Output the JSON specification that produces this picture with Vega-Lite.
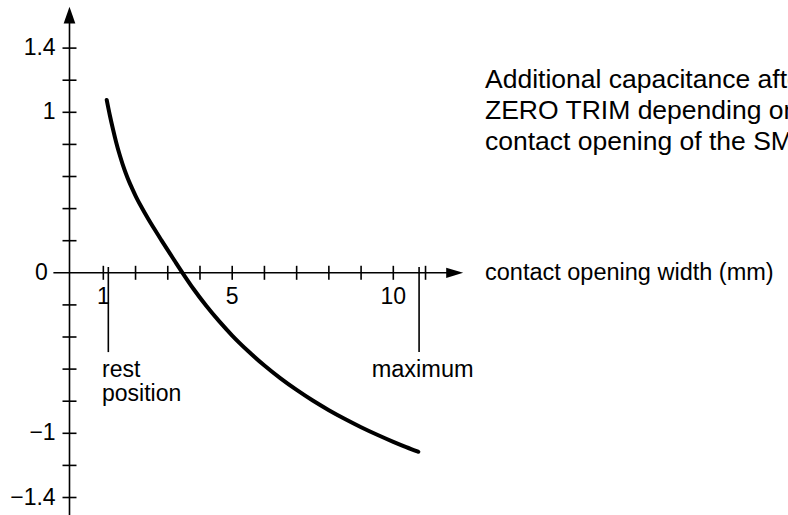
{
  "$schema": "https://vega.github.io/schema/vega-lite/v6.json",
  "width": 788,
  "height": 515,
  "autosize": {"type": "none"},
  "padding": 0,
  "background": "white",
  "config": {"view": {"stroke": null}},
  "datasets": {
    "curve": [
      {"x": 1.105, "y": 1.077},
      {"x": 1.2, "y": 0.983},
      {"x": 1.3, "y": 0.894},
      {"x": 1.4, "y": 0.812},
      {"x": 1.5, "y": 0.74},
      {"x": 1.6, "y": 0.676},
      {"x": 1.7, "y": 0.619},
      {"x": 1.8, "y": 0.568},
      {"x": 1.9, "y": 0.523},
      {"x": 2.0, "y": 0.48},
      {"x": 2.2, "y": 0.404},
      {"x": 2.4, "y": 0.334},
      {"x": 2.6, "y": 0.268},
      {"x": 2.8, "y": 0.204},
      {"x": 3.0, "y": 0.141},
      {"x": 3.2, "y": 0.079},
      {"x": 3.457, "y": 0.0},
      {"x": 3.8, "y": -0.101},
      {"x": 4.2, "y": -0.207},
      {"x": 4.6, "y": -0.303},
      {"x": 5.0, "y": -0.391},
      {"x": 5.5, "y": -0.489},
      {"x": 6.0, "y": -0.578},
      {"x": 6.5, "y": -0.658},
      {"x": 7.0, "y": -0.73},
      {"x": 7.5, "y": -0.796},
      {"x": 8.0, "y": -0.856},
      {"x": 8.5, "y": -0.911},
      {"x": 9.0, "y": -0.962},
      {"x": 9.5, "y": -1.009},
      {"x": 10.0, "y": -1.053},
      {"x": 10.4, "y": -1.086},
      {"x": 10.776, "y": -1.115}
    ],
    "yticks": [
      {"v": -1.4}, {"v": -1.2}, {"v": -1.0}, {"v": -0.8}, {"v": -0.6}, {"v": -0.4}, {"v": -0.2},
      {"v": 0.2}, {"v": 0.4}, {"v": 0.6}, {"v": 0.8}, {"v": 1.0}, {"v": 1.2}, {"v": 1.4}
    ],
    "xticks": [
      {"v": 1}, {"v": 2}, {"v": 3}, {"v": 4}, {"v": 5}, {"v": 6}, {"v": 7}, {"v": 8}, {"v": 9}, {"v": 10}, {"v": 11}
    ],
    "ylabels": [
      {"v": 1.4, "t": "1.4"}, {"v": 1.0, "t": "1"}, {"v": -1.0, "t": "−1"}, {"v": -1.4, "t": "−1.4"}
    ],
    "xlabels": [
      {"v": 1, "t": "1"}, {"v": 5, "t": "5"}, {"v": 10, "t": "10"}
    ],
    "markers": [
      {"v": 1.155, "name": "rest position"}, {"v": 10.8, "name": "maximum"}
    ]
  },
  "encoding": {
    "x": {"type": "quantitative", "scale": {"domain": [-2.207, 22.25], "nice": false, "zero": false}, "axis": null},
    "y": {"type": "quantitative", "scale": {"domain": [-1.509, 1.6997], "nice": false, "zero": false}, "axis": null}
  },
  "layer": [
    {
      "data": {"values": [{}]},
      "mark": {"type": "rule", "color": "black", "strokeWidth": 1.6},
      "encoding": {"x": {"datum": -0.05, "type": "quantitative"}, "y": {"datum": -1.52, "type": "quantitative"}, "y2": {"datum": 1.56}}
    },
    {
      "data": {"values": [{}]},
      "mark": {"type": "rule", "color": "black", "strokeWidth": 1.6},
      "encoding": {"y": {"datum": 0, "type": "quantitative"}, "x": {"datum": -0.55, "type": "quantitative"}, "x2": {"datum": 11.8}}
    },
    {
      "data": {"values": [{}]},
      "mark": {"type": "point", "shape": "M0,-1L0.7,1L-0.7,1Z", "size": 280, "filled": true, "color": "black", "opacity": 1},
      "encoding": {"x": {"datum": -0.05, "type": "quantitative"}, "y": {"datum": 1.606, "type": "quantitative"}}
    },
    {
      "data": {"values": [{}]},
      "mark": {"type": "point", "shape": "M1,0L-1,-0.6L-1,0.6Z", "size": 289, "filled": true, "color": "black", "opacity": 1},
      "encoding": {"x": {"datum": 11.905, "type": "quantitative"}, "y": {"datum": 0, "type": "quantitative"}}
    },
    {
      "data": {"name": "yticks"},
      "mark": {"type": "tick", "orient": "horizontal", "size": 14, "thickness": 1.6, "color": "black", "opacity": 1},
      "encoding": {"x": {"datum": -0.05, "type": "quantitative"}, "y": {"field": "v", "type": "quantitative"}}
    },
    {
      "data": {"name": "xticks"},
      "mark": {"type": "tick", "orient": "vertical", "size": 14, "thickness": 1.6, "color": "black", "opacity": 1},
      "encoding": {"x": {"field": "v", "type": "quantitative"}, "y": {"datum": 0, "type": "quantitative"}}
    },
    {
      "data": {"name": "markers"},
      "mark": {"type": "rule", "color": "black", "strokeWidth": 1.6},
      "encoding": {"x": {"field": "v", "type": "quantitative"}, "y": {"datum": 0.036, "type": "quantitative"}, "y2": {"datum": -0.494}}
    },
    {
      "data": {"name": "curve"},
      "mark": {"type": "line", "color": "black", "strokeWidth": 4, "interpolate": "monotone", "strokeCap": "round"},
      "encoding": {"x": {"field": "x", "type": "quantitative"}, "y": {"field": "y", "type": "quantitative"}}
    },
    {
      "data": {"name": "ylabels"},
      "mark": {"type": "text", "align": "right", "baseline": "middle", "font": "Liberation Sans", "fontSize": 23, "color": "black"},
      "encoding": {"x": {"datum": -0.48, "type": "quantitative"}, "y": {"field": "v", "type": "quantitative"}, "text": {"field": "t"}}
    },
    {
      "data": {"values": [{"t": "0"}]},
      "mark": {"type": "text", "align": "right", "baseline": "middle", "font": "Liberation Sans", "fontSize": 23, "color": "black"},
      "encoding": {"x": {"datum": -0.72, "type": "quantitative"}, "y": {"datum": 0, "type": "quantitative"}, "text": {"field": "t"}}
    },
    {
      "data": {"name": "xlabels"},
      "mark": {"type": "text", "align": "center", "baseline": "middle", "font": "Liberation Sans", "fontSize": 23, "color": "black"},
      "encoding": {"x": {"field": "v", "type": "quantitative"}, "y": {"datum": -0.151, "type": "quantitative"}, "text": {"field": "t"}}
    },
    {
      "data": {"values": [{"t": "contact opening width (mm)"}]},
      "mark": {"type": "text", "align": "left", "baseline": "middle", "font": "Liberation Sans", "fontSize": 23.5, "color": "black"},
      "encoding": {"x": {"datum": 12.846, "type": "quantitative"}, "y": {"datum": 0, "type": "quantitative"}, "text": {"field": "t"}}
    },
    {
      "data": {"values": [{"t": "rest\nposition"}]},
      "mark": {"type": "text", "align": "left", "baseline": "alphabetic", "lineBreak": "\n", "lineHeight": 24, "font": "Liberation Sans", "fontSize": 23, "color": "black"},
      "encoding": {"x": {"datum": 0.96, "type": "quantitative"}, "y": {"datum": -0.649, "type": "quantitative"}, "text": {"field": "t"}}
    },
    {
      "data": {"values": [{"t": "maximum"}]},
      "mark": {"type": "text", "align": "left", "baseline": "alphabetic", "font": "Liberation Sans", "fontSize": 23.5, "color": "black"},
      "encoding": {"x": {"datum": 9.33, "type": "quantitative"}, "y": {"datum": -0.649, "type": "quantitative"}, "text": {"field": "t"}}
    },
    {
      "data": {"values": [{"t": "Additional capacitance after\nZERO TRIM depending on the\ncontact opening of the SMD"}]},
      "mark": {"type": "text", "align": "left", "baseline": "alphabetic", "lineBreak": "\n", "lineHeight": 31, "font": "Liberation Sans", "fontSize": 26.5, "color": "black"},
      "encoding": {"x": {"datum": 12.846, "type": "quantitative"}, "y": {"datum": 1.151, "type": "quantitative"}, "text": {"field": "t"}}
    }
  ]
}
